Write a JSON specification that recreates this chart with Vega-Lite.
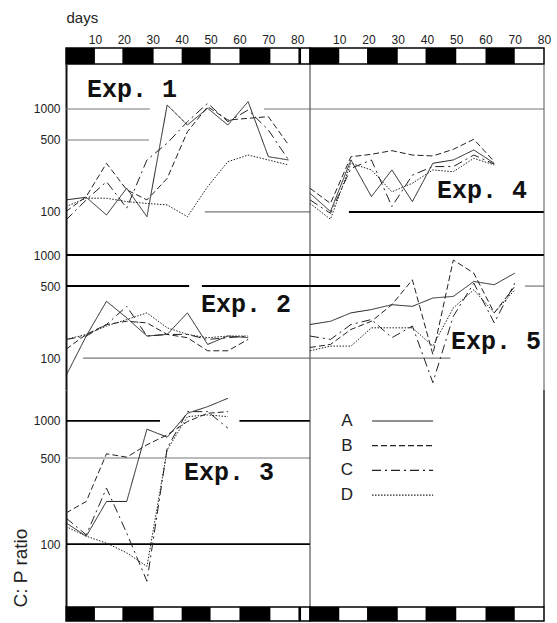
{
  "$schema": "https://vega.github.io/schema/vega-lite/v6.json",
  "padding": {"left": 11, "top": 9, "right": 8, "bottom": 1},
  "background": "white",
  "config": {"view": {"stroke": null}, "concat": {"spacing": 0}},
  "datasets": {
    "bars": [
      {"col": "L", "start": 0, "end": 10}, {"col": "L", "start": 19.5, "end": 30.3}, {"col": "L", "start": 40, "end": 50}, {"col": "L", "start": 60, "end": 70.7}, {"col": "L", "start": 80.4, "end": 81.3},
      {"col": "R", "start": 0, "end": 10}, {"col": "R", "start": 19.5, "end": 30}, {"col": "R", "start": 39.5, "end": 50}, {"col": "R", "start": 60, "end": 70}
    ],
    "grid": [
      {"panel": "P1", "value": 1000, "from": 0, "to": 29, "weight": "thin"},
      {"panel": "P1", "value": 1000, "from": 68.5, "to": 84.4, "weight": "thin"},
      {"panel": "P1", "value": 500, "from": 0, "to": 28.7, "weight": "thin"},
      {"panel": "P1", "value": 100, "from": 48, "to": 84.4, "weight": "thin"},
      {"panel": "P4", "value": 1000, "from": 0, "to": 80, "weight": "thin"},
      {"panel": "P4", "value": 100, "from": 13.3, "to": 80, "weight": "thick"},
      {"panel": "P2", "value": 1000, "from": 0, "to": 84.4, "weight": "thick"},
      {"panel": "P2", "value": 500, "from": 0, "to": 42.6, "weight": "thick"},
      {"panel": "P2", "value": 500, "from": 47, "to": 84.4, "weight": "thick"},
      {"panel": "P2", "value": 100, "from": 5.9, "to": 84.4, "weight": "thin"},
      {"panel": "P5", "value": 1000, "from": 0, "to": 80, "weight": "thick"},
      {"panel": "P5", "value": 500, "from": 0, "to": 30.8, "weight": "thick"},
      {"panel": "P5", "value": 500, "from": 73.5, "to": 80, "weight": "thin"},
      {"panel": "P5", "value": 100, "from": 0, "to": 48, "weight": "thin"},
      {"panel": "P3", "value": 1000, "from": 0, "to": 32.5, "weight": "thick"},
      {"panel": "P3", "value": 1000, "from": 60, "to": 84.4, "weight": "thick"},
      {"panel": "P3", "value": 500, "from": 0, "to": 84.4, "weight": "thin"},
      {"panel": "P3", "value": 100, "from": 0, "to": 84.4, "weight": "thick"}
    ],
    "legend": [{"series": "A", "order": 1}, {"series": "B", "order": 2}, {"series": "C", "order": 3}, {"series": "D", "order": 4}],
    "cp": [
      {"exp":1,"series":"A","day":0,"ratio":131},{"exp":1,"series":"A","day":7,"ratio":139},{"exp":1,"series":"A","day":14,"ratio":93.5},{"exp":1,"series":"A","day":21,"ratio":170},{"exp":1,"series":"A","day":28,"ratio":90},{"exp":1,"series":"A","day":35,"ratio":1094},{"exp":1,"series":"A","day":42,"ratio":699},{"exp":1,"series":"A","day":49,"ratio":1016},{"exp":1,"series":"A","day":56,"ratio":699},{"exp":1,"series":"A","day":63,"ratio":1178},{"exp":1,"series":"A","day":70,"ratio":344},{"exp":1,"series":"A","day":77,"ratio":320},
      {"exp":1,"series":"B","day":0,"ratio":101},{"exp":1,"series":"B","day":7,"ratio":141},{"exp":1,"series":"B","day":14,"ratio":297},{"exp":1,"series":"B","day":21,"ratio":164},{"exp":1,"series":"B","day":28,"ratio":131},{"exp":1,"series":"B","day":35,"ratio":212},{"exp":1,"series":"B","day":42,"ratio":602},{"exp":1,"series":"B","day":49,"ratio":1052},{"exp":1,"series":"B","day":56,"ratio":781},{"exp":1,"series":"B","day":63,"ratio":812},{"exp":1,"series":"B","day":70,"ratio":842},{"exp":1,"series":"B","day":77,"ratio":447},
      {"exp":1,"series":"C","day":0,"ratio":83.5},{"exp":1,"series":"C","day":7,"ratio":131},{"exp":1,"series":"C","day":14,"ratio":197},{"exp":1,"series":"C","day":21,"ratio":109},{"exp":1,"series":"C","day":28,"ratio":320},{"exp":1,"series":"C","day":35,"ratio":465},{"exp":1,"series":"C","day":42,"ratio":753},{"exp":1,"series":"C","day":49,"ratio":1136},{"exp":1,"series":"C","day":56,"ratio":753},{"exp":1,"series":"C","day":63,"ratio":978},{"exp":1,"series":"C","day":70,"ratio":625},{"exp":1,"series":"C","day":77,"ratio":320},
      {"exp":1,"series":"D","day":0,"ratio":113},{"exp":1,"series":"D","day":7,"ratio":136},{"exp":1,"series":"D","day":14,"ratio":136},{"exp":1,"series":"D","day":21,"ratio":126},{"exp":1,"series":"D","day":28,"ratio":121},{"exp":1,"series":"D","day":35,"ratio":117},{"exp":1,"series":"D","day":42,"ratio":90},{"exp":1,"series":"D","day":49,"ratio":176},{"exp":1,"series":"D","day":56,"ratio":308},{"exp":1,"series":"D","day":63,"ratio":357},{"exp":1,"series":"D","day":70,"ratio":320},{"exp":1,"series":"D","day":77,"ratio":286},
      {"exp":4,"series":"A","day":0,"ratio":152},{"exp":4,"series":"A","day":7,"ratio":101},{"exp":4,"series":"A","day":14,"ratio":320},{"exp":4,"series":"A","day":21,"ratio":141},{"exp":4,"series":"A","day":28,"ratio":256},{"exp":4,"series":"A","day":35,"ratio":126},{"exp":4,"series":"A","day":42,"ratio":297},{"exp":4,"series":"A","day":49,"ratio":320},{"exp":4,"series":"A","day":56,"ratio":400},{"exp":4,"series":"A","day":63,"ratio":297},
      {"exp":4,"series":"B","day":0,"ratio":170},{"exp":4,"series":"B","day":7,"ratio":121},{"exp":4,"series":"B","day":14,"ratio":344},{"exp":4,"series":"B","day":21,"ratio":363},{"exp":4,"series":"B","day":28,"ratio":394},{"exp":4,"series":"B","day":35,"ratio":357},{"exp":4,"series":"B","day":42,"ratio":350},{"exp":4,"series":"B","day":49,"ratio":406},{"exp":4,"series":"B","day":56,"ratio":508},{"exp":4,"series":"B","day":63,"ratio":308},
      {"exp":4,"series":"C","day":0,"ratio":131},{"exp":4,"series":"C","day":7,"ratio":97},{"exp":4,"series":"C","day":14,"ratio":265},{"exp":4,"series":"C","day":21,"ratio":320},{"exp":4,"series":"C","day":28,"ratio":113},{"exp":4,"series":"C","day":35,"ratio":228},{"exp":4,"series":"C","day":42,"ratio":276},{"exp":4,"series":"C","day":49,"ratio":276},{"exp":4,"series":"C","day":56,"ratio":357},{"exp":4,"series":"C","day":63,"ratio":292},
      {"exp":4,"series":"D","day":0,"ratio":121},{"exp":4,"series":"D","day":7,"ratio":85},{"exp":4,"series":"D","day":14,"ratio":297},{"exp":4,"series":"D","day":21,"ratio":256},{"exp":4,"series":"D","day":28,"ratio":157},{"exp":4,"series":"D","day":35,"ratio":190},{"exp":4,"series":"D","day":42,"ratio":256},{"exp":4,"series":"D","day":49,"ratio":246},{"exp":4,"series":"D","day":56,"ratio":332},{"exp":4,"series":"D","day":63,"ratio":286},
      {"exp":2,"series":"A","day":0,"ratio":67.6},{"exp":2,"series":"A","day":7,"ratio":164},{"exp":2,"series":"A","day":14,"ratio":356},{"exp":2,"series":"A","day":21,"ratio":246},{"exp":2,"series":"A","day":28,"ratio":164},{"exp":2,"series":"A","day":35,"ratio":170},{"exp":2,"series":"A","day":42,"ratio":275},{"exp":2,"series":"A","day":49,"ratio":136},{"exp":2,"series":"A","day":56,"ratio":164},{"exp":2,"series":"A","day":63,"ratio":158},
      {"exp":2,"series":"B","day":0,"ratio":122},{"exp":2,"series":"B","day":7,"ratio":170},{"exp":2,"series":"B","day":14,"ratio":212},{"exp":2,"series":"B","day":21,"ratio":228},{"exp":2,"series":"B","day":28,"ratio":220},{"exp":2,"series":"B","day":35,"ratio":170},{"exp":2,"series":"B","day":42,"ratio":158},{"exp":2,"series":"B","day":49,"ratio":118},{"exp":2,"series":"B","day":56,"ratio":118},{"exp":2,"series":"B","day":63,"ratio":152},
      {"exp":2,"series":"C","day":0,"ratio":152},{"exp":2,"series":"C","day":7,"ratio":164},{"exp":2,"series":"C","day":14,"ratio":212},{"exp":2,"series":"C","day":21,"ratio":318},{"exp":2,"series":"C","day":28,"ratio":164},{"exp":2,"series":"C","day":35,"ratio":170},{"exp":2,"series":"C","day":42,"ratio":170},{"exp":2,"series":"C","day":49,"ratio":152},{"exp":2,"series":"C","day":56,"ratio":158},{"exp":2,"series":"C","day":63,"ratio":164},
      {"exp":2,"series":"D","day":0,"ratio":152},{"exp":2,"series":"D","day":7,"ratio":170},{"exp":2,"series":"D","day":14,"ratio":205},{"exp":2,"series":"D","day":21,"ratio":237},{"exp":2,"series":"D","day":28,"ratio":275},{"exp":2,"series":"D","day":35,"ratio":197},{"exp":2,"series":"D","day":42,"ratio":170},{"exp":2,"series":"D","day":49,"ratio":158},{"exp":2,"series":"D","day":56,"ratio":164},{"exp":2,"series":"D","day":63,"ratio":164},
      {"exp":5,"series":"A","day":0,"ratio":212},{"exp":5,"series":"A","day":7,"ratio":228},{"exp":5,"series":"A","day":14,"ratio":275},{"exp":5,"series":"A","day":21,"ratio":296},{"exp":5,"series":"A","day":28,"ratio":330},{"exp":5,"series":"A","day":35,"ratio":318},{"exp":5,"series":"A","day":42,"ratio":383},{"exp":5,"series":"A","day":49,"ratio":397},{"exp":5,"series":"A","day":56,"ratio":554},{"exp":5,"series":"A","day":63,"ratio":515},{"exp":5,"series":"A","day":70,"ratio":667},
      {"exp":5,"series":"B","day":0,"ratio":127},{"exp":5,"series":"B","day":7,"ratio":136},{"exp":5,"series":"B","day":14,"ratio":190},{"exp":5,"series":"B","day":21,"ratio":228},{"exp":5,"series":"B","day":28,"ratio":330},{"exp":5,"series":"B","day":35,"ratio":575},{"exp":5,"series":"B","day":42,"ratio":109},{"exp":5,"series":"B","day":49,"ratio":895},{"exp":5,"series":"B","day":56,"ratio":667},{"exp":5,"series":"B","day":63,"ratio":275},{"exp":5,"series":"B","day":70,"ratio":496},
      {"exp":5,"series":"C","day":0,"ratio":164},{"exp":5,"series":"C","day":7,"ratio":152},{"exp":5,"series":"C","day":14,"ratio":212},{"exp":5,"series":"C","day":21,"ratio":237},{"exp":5,"series":"C","day":28,"ratio":158},{"exp":5,"series":"C","day":35,"ratio":205},{"exp":5,"series":"C","day":42,"ratio":58},{"exp":5,"series":"C","day":49,"ratio":255},{"exp":5,"series":"C","day":56,"ratio":534},{"exp":5,"series":"C","day":63,"ratio":220},{"exp":5,"series":"C","day":70,"ratio":534},
      {"exp":5,"series":"D","day":0,"ratio":118},{"exp":5,"series":"D","day":7,"ratio":131},{"exp":5,"series":"D","day":14,"ratio":131},{"exp":5,"series":"D","day":21,"ratio":197},{"exp":5,"series":"D","day":28,"ratio":197},{"exp":5,"series":"D","day":35,"ratio":197},{"exp":5,"series":"D","day":42,"ratio":131},{"exp":5,"series":"D","day":49,"ratio":307},{"exp":5,"series":"D","day":56,"ratio":460},{"exp":5,"series":"D","day":63,"ratio":275},{"exp":5,"series":"D","day":70,"ratio":460},
      {"exp":3,"series":"A","day":0,"ratio":149},{"exp":3,"series":"A","day":7,"ratio":116},{"exp":3,"series":"A","day":14,"ratio":222},{"exp":3,"series":"A","day":21,"ratio":222},{"exp":3,"series":"A","day":28,"ratio":857},{"exp":3,"series":"A","day":35,"ratio":738},{"exp":3,"series":"A","day":42,"ratio":1153},{"exp":3,"series":"A","day":49,"ratio":1306},{"exp":3,"series":"A","day":56,"ratio":1527},
      {"exp":3,"series":"B","day":0,"ratio":179},{"exp":3,"series":"B","day":7,"ratio":222},{"exp":3,"series":"B","day":14,"ratio":541},{"exp":3,"series":"B","day":21,"ratio":508},{"exp":3,"series":"B","day":28,"ratio":640},{"exp":3,"series":"B","day":35,"ratio":771},{"exp":3,"series":"B","day":42,"ratio":988},{"exp":3,"series":"B","day":49,"ratio":1153},{"exp":3,"series":"B","day":56,"ratio":1190},
      {"exp":3,"series":"C","day":0,"ratio":163},{"exp":3,"series":"C","day":7,"ratio":119},{"exp":3,"series":"C","day":14,"ratio":285},{"exp":3,"series":"C","day":21,"ratio":123},{"exp":3,"series":"C","day":28,"ratio":50},{"exp":3,"series":"C","day":35,"ratio":601},{"exp":3,"series":"C","day":42,"ratio":1190},{"exp":3,"series":"C","day":49,"ratio":1190},{"exp":3,"series":"C","day":56,"ratio":873},
      {"exp":3,"series":"D","day":0,"ratio":139},{"exp":3,"series":"D","day":7,"ratio":116},{"exp":3,"series":"D","day":14,"ratio":102},{"exp":3,"series":"D","day":21,"ratio":85},{"exp":3,"series":"D","day":28,"ratio":66},{"exp":3,"series":"D","day":35,"ratio":582},{"exp":3,"series":"D","day":42,"ratio":1083},{"exp":3,"series":"D","day":49,"ratio":1119},{"exp":3,"series":"D","day":56,"ratio":1083}
    ]
  },
  "columns": 2,
  "bounds": "flush",
  "align": "each",
  "spacing": 0,
  "resolve": {"scale": {"x": "independent", "y": "independent"}},
  "concat": [
    {
      "width": 244, "height": 16,
      "view": {"stroke": "#000", "strokeWidth": 1.5},
      "data": {"name": "bars"},
      "transform": [{"filter": "datum.col === 'L'"}],
      "mark": {"type": "rect", "color": "#000"},
      "encoding": {
        "x": {"field": "start", "type": "quantitative", "scale": {"domain": [0, 84.4], "nice": false, "zero": false},
          "axis": {"orient": "top", "values": [10, 20, 30, 40, 50, 60, 70, 80], "title": "days", "titleAnchor": "start", "titleAlign": "left", "titleFont": "Liberation Sans", "titleFontSize": 15, "titleFontWeight": "normal", "titleColor": "#222", "titlePadding": 8, "labelFont": "Liberation Sans", "labelFontSize": 12, "labelColor": "#222", "labelPadding": 2, "labelFlush": false, "ticks": false, "domain": false, "grid": false}},
        "x2": {"field": "end"}
      }
    },
    {
      "width": 234, "height": 16,
      "view": {"stroke": "#000", "strokeWidth": 1.5},
      "data": {"name": "bars"},
      "transform": [{"filter": "datum.col === 'R'"}],
      "mark": {"type": "rect", "color": "#000"},
      "encoding": {
        "x": {"field": "start", "type": "quantitative", "scale": {"domain": [0, 80], "nice": false, "zero": false},
          "axis": {"orient": "top", "values": [10, 20, 30, 40, 50, 60, 70, 80], "title": null, "labelFont": "Liberation Sans", "labelFontSize": 12, "labelColor": "#222", "labelPadding": 2, "labelFlush": false, "ticks": false, "domain": false, "grid": false}},
        "x2": {"field": "end"}
      }
    },
    {
      "width": 244, "height": 191,
      "layer": [
        {"data": {"name": "grid"}, "transform": [{"filter": "datum.panel === 'P1' && datum.weight === 'thin'"}],
         "mark": {"type": "rule", "color": "#777", "strokeWidth": 1.2},
         "encoding": {"x": {"field": "from", "type": "quantitative", "scale": {"domain": [0, 84.4], "nice": false, "zero": false}, "axis": null}, "x2": {"field": "to"},
           "y": {"field": "value", "type": "quantitative", "scale": {"type": "log", "domain": [38.2, 2735], "nice": false},
             "axis": {"values": [100, 500, 1000], "format": "d", "title": null, "ticks": false, "grid": false, "domain": true, "domainColor": "#111", "domainWidth": 2, "labelFont": "Liberation Sans", "labelFontSize": 12, "labelColor": "#222", "labelPadding": 6}}}},
        {"data": {"values": [{}]}, "mark": {"type": "rule", "color": "#333", "strokeWidth": 1}, "encoding": {"x": {"datum": 84.4, "type": "quantitative"}}},
        {"data": {"name": "cp"}, "transform": [{"filter": "datum.exp === 1"}],
         "mark": {"type": "line", "color": "#222", "strokeWidth": 1},
         "encoding": {"x": {"field": "day", "type": "quantitative"}, "y": {"field": "ratio", "type": "quantitative"},
           "strokeDash": {"field": "series", "type": "nominal", "scale": {"domain": ["A", "B", "C", "D"], "range": [[1, 0], [6, 3], [9, 4, 2, 4], [1.5, 1.5]]}, "legend": null}}},
        {"data": {"values": [{}]}, "mark": {"type": "text", "font": "Liberation Mono", "fontWeight": "bold", "fontSize": 25, "align": "left", "baseline": "alphabetic", "color": "#111"},
         "encoding": {"x": {"datum": 7.3, "type": "quantitative"}, "y": {"datum": 1308, "type": "quantitative"}, "text": {"value": "Exp. 1"}}}
      ]
    },
    {
      "width": 234, "height": 191,
      "layer": [
        {"data": {"name": "grid"}, "transform": [{"filter": "datum.panel === 'P4' && datum.weight === 'thin'"}],
         "mark": {"type": "rule", "color": "#777", "strokeWidth": 1.2},
         "encoding": {"x": {"field": "from", "type": "quantitative", "scale": {"domain": [0, 80], "nice": false, "zero": false}, "axis": null}, "x2": {"field": "to"},
           "y": {"field": "value", "type": "quantitative", "scale": {"type": "log", "domain": [38.2, 2735], "nice": false}, "axis": null}}},
        {"data": {"name": "grid"}, "transform": [{"filter": "datum.panel === 'P4' && datum.weight === 'thick'"}],
         "mark": {"type": "rule", "color": "#000", "strokeWidth": 2},
         "encoding": {"x": {"field": "from", "type": "quantitative"}, "x2": {"field": "to"}, "y": {"field": "value", "type": "quantitative"}}},
        {"data": {"values": [{}]}, "mark": {"type": "rule", "color": "#555", "strokeWidth": 1}, "encoding": {"x": {"datum": 80, "type": "quantitative"}}},
        {"data": {"name": "cp"}, "transform": [{"filter": "datum.exp === 4"}],
         "mark": {"type": "line", "color": "#222", "strokeWidth": 1},
         "encoding": {"x": {"field": "day", "type": "quantitative"}, "y": {"field": "ratio", "type": "quantitative"},
           "strokeDash": {"field": "series", "type": "nominal", "scale": {"domain": ["A", "B", "C", "D"], "range": [[1, 0], [6, 3], [9, 4, 2, 4], [1.5, 1.5]]}, "legend": null}}},
        {"data": {"values": [{}]}, "mark": {"type": "text", "font": "Liberation Mono", "fontWeight": "bold", "fontSize": 25, "align": "left", "baseline": "alphabetic", "color": "#111"},
         "encoding": {"x": {"datum": 43.4, "type": "quantitative"}, "y": {"datum": 137, "type": "quantitative"}, "text": {"value": "Exp. 4"}}}
      ]
    },
    {
      "width": 244, "height": 135,
      "layer": [
        {"data": {"name": "grid"}, "transform": [{"filter": "datum.panel === 'P2' && datum.weight === 'thin'"}],
         "mark": {"type": "rule", "color": "#777", "strokeWidth": 1.2},
         "encoding": {"x": {"field": "from", "type": "quantitative", "scale": {"domain": [0, 84.4], "nice": false, "zero": false}, "axis": null}, "x2": {"field": "to"},
           "y": {"field": "value", "type": "quantitative", "scale": {"type": "log", "domain": [49.2, 1000], "nice": false},
             "axis": {"values": [100, 500, 1000], "format": "d", "title": null, "ticks": false, "grid": false, "domain": true, "domainColor": "#111", "domainWidth": 2, "labelFont": "Liberation Sans", "labelFontSize": 12, "labelColor": "#222", "labelPadding": 6}}}},
        {"data": {"name": "grid"}, "transform": [{"filter": "datum.panel === 'P2' && datum.weight === 'thick'"}],
         "mark": {"type": "rule", "color": "#000", "strokeWidth": 2},
         "encoding": {"x": {"field": "from", "type": "quantitative"}, "x2": {"field": "to"}, "y": {"field": "value", "type": "quantitative"}}},
        {"data": {"values": [{}]}, "mark": {"type": "rule", "color": "#333", "strokeWidth": 1}, "encoding": {"x": {"datum": 84.4, "type": "quantitative"}}},
        {"data": {"name": "cp"}, "transform": [{"filter": "datum.exp === 2"}],
         "mark": {"type": "line", "color": "#222", "strokeWidth": 1},
         "encoding": {"x": {"field": "day", "type": "quantitative"}, "y": {"field": "ratio", "type": "quantitative"},
           "strokeDash": {"field": "series", "type": "nominal", "scale": {"domain": ["A", "B", "C", "D"], "range": [[1, 0], [6, 3], [9, 4, 2, 4], [1.5, 1.5]]}, "legend": null}}},
        {"data": {"values": [{}]}, "mark": {"type": "text", "font": "Liberation Mono", "fontWeight": "bold", "fontSize": 25, "align": "left", "baseline": "alphabetic", "color": "#111"},
         "encoding": {"x": {"datum": 46.7, "type": "quantitative"}, "y": {"datum": 280, "type": "quantitative"}, "text": {"value": "Exp. 2"}}}
      ]
    },
    {
      "width": 234, "height": 135,
      "layer": [
        {"data": {"name": "grid"}, "transform": [{"filter": "datum.panel === 'P5' && datum.weight === 'thin'"}],
         "mark": {"type": "rule", "color": "#777", "strokeWidth": 1.2},
         "encoding": {"x": {"field": "from", "type": "quantitative", "scale": {"domain": [0, 80], "nice": false, "zero": false}, "axis": null}, "x2": {"field": "to"},
           "y": {"field": "value", "type": "quantitative", "scale": {"type": "log", "domain": [49.2, 1000], "nice": false}, "axis": null}}},
        {"data": {"name": "grid"}, "transform": [{"filter": "datum.panel === 'P5' && datum.weight === 'thick'"}],
         "mark": {"type": "rule", "color": "#000", "strokeWidth": 2},
         "encoding": {"x": {"field": "from", "type": "quantitative"}, "x2": {"field": "to"}, "y": {"field": "value", "type": "quantitative"}}},
        {"data": {"values": [{}]}, "mark": {"type": "rule", "color": "#555", "strokeWidth": 1}, "encoding": {"x": {"datum": 80, "type": "quantitative"}}},
        {"data": {"name": "cp"}, "transform": [{"filter": "datum.exp === 5"}],
         "mark": {"type": "line", "color": "#222", "strokeWidth": 1},
         "encoding": {"x": {"field": "day", "type": "quantitative"}, "y": {"field": "ratio", "type": "quantitative"},
           "strokeDash": {"field": "series", "type": "nominal", "scale": {"domain": ["A", "B", "C", "D"], "range": [[1, 0], [6, 3], [9, 4, 2, 4], [1.5, 1.5]]}, "legend": null}}},
        {"data": {"values": [{}]}, "mark": {"type": "text", "font": "Liberation Mono", "fontWeight": "bold", "fontSize": 25, "align": "left", "baseline": "alphabetic", "color": "#111"},
         "encoding": {"x": {"datum": 48.2, "type": "quantitative"}, "y": {"datum": 122, "type": "quantitative"}, "text": {"value": "Exp. 5"}}}
      ]
    },
    {
      "width": 244, "height": 217,
      "layer": [
        {"data": {"name": "grid"}, "transform": [{"filter": "datum.panel === 'P3' && datum.weight === 'thin'"}],
         "mark": {"type": "rule", "color": "#777", "strokeWidth": 1.2},
         "encoding": {"x": {"field": "from", "type": "quantitative", "scale": {"domain": [0, 84.4], "nice": false, "zero": false}, "axis": null}, "x2": {"field": "to"},
           "y": {"field": "value", "type": "quantitative", "scale": {"type": "log", "domain": [30.9, 1782], "nice": false},
             "axis": {"values": [100, 500, 1000], "format": "d", "title": "C: P ratio", "titleAnchor": "start", "titleFont": "Liberation Sans", "titleFontSize": 19, "titleFontWeight": "normal", "titleColor": "#222", "titlePadding": 3, "ticks": false, "grid": false, "domain": true, "domainColor": "#111", "domainWidth": 2, "labelFont": "Liberation Sans", "labelFontSize": 12, "labelColor": "#222", "labelPadding": 6}}}},
        {"data": {"name": "grid"}, "transform": [{"filter": "datum.panel === 'P3' && datum.weight === 'thick'"}],
         "mark": {"type": "rule", "color": "#000", "strokeWidth": 1.6},
         "encoding": {"x": {"field": "from", "type": "quantitative"}, "x2": {"field": "to"}, "y": {"field": "value", "type": "quantitative"}}},
        {"data": {"values": [{}]}, "mark": {"type": "rule", "color": "#333", "strokeWidth": 1}, "encoding": {"x": {"datum": 84.4, "type": "quantitative"}}},
        {"data": {"name": "cp"}, "transform": [{"filter": "datum.exp === 3"}],
         "mark": {"type": "line", "color": "#222", "strokeWidth": 1},
         "encoding": {"x": {"field": "day", "type": "quantitative"}, "y": {"field": "ratio", "type": "quantitative"},
           "strokeDash": {"field": "series", "type": "nominal", "scale": {"domain": ["A", "B", "C", "D"], "range": [[1, 0], [6, 3], [9, 4, 2, 4], [1.5, 1.5]]}, "legend": null}}},
        {"data": {"values": [{}]}, "mark": {"type": "text", "font": "Liberation Mono", "fontWeight": "bold", "fontSize": 25, "align": "left", "baseline": "alphabetic", "color": "#111"},
         "encoding": {"x": {"datum": 40.8, "type": "quantitative"}, "y": {"datum": 333, "type": "quantitative"}, "text": {"value": "Exp. 3"}}}
      ]
    },
    {
      "width": 234, "height": 217,
      "data": {"name": "legend"},
      "layer": [
        {"mark": {"type": "rule", "color": "#222", "strokeWidth": 1.2},
         "encoding": {"x": {"datum": 21.2, "type": "quantitative", "scale": {"domain": [0, 80], "nice": false, "zero": false}, "axis": null}, "x2": {"datum": 42.1},
           "y": {"field": "order", "type": "quantitative", "scale": {"domain": [-0.255, 8.53], "nice": false, "zero": false, "reverse": true}, "axis": null},
           "strokeDash": {"field": "series", "type": "nominal", "scale": {"domain": ["A", "B", "C", "D"], "range": [[1, 0], [6, 3], [9, 4, 2, 4], [1.5, 1.5]]}, "legend": null}}},
        {"mark": {"type": "text", "font": "Liberation Sans", "fontSize": 17, "align": "center", "baseline": "middle", "color": "#222"},
         "encoding": {"x": {"datum": 12.6, "type": "quantitative"}, "y": {"field": "order", "type": "quantitative"}, "text": {"field": "series"}}},
        {"mark": {"type": "rule", "color": "#555", "strokeWidth": 1}, "encoding": {"x": {"datum": 80, "type": "quantitative"}}}
      ]
    },
    {
      "width": 244, "height": 14,
      "view": {"stroke": "#000", "strokeWidth": 1.5},
      "data": {"name": "bars"},
      "transform": [{"filter": "datum.col === 'L'"}],
      "mark": {"type": "rect", "color": "#000"},
      "encoding": {
        "x": {"field": "start", "type": "quantitative", "scale": {"domain": [0, 84.4], "nice": false, "zero": false}, "axis": null},
        "x2": {"field": "end"}
      }
    },
    {
      "width": 234, "height": 14,
      "view": {"stroke": "#000", "strokeWidth": 1.5},
      "data": {"name": "bars"},
      "transform": [{"filter": "datum.col === 'R'"}],
      "mark": {"type": "rect", "color": "#000"},
      "encoding": {
        "x": {"field": "start", "type": "quantitative", "scale": {"domain": [0, 80], "nice": false, "zero": false}, "axis": null},
        "x2": {"field": "end"}
      }
    }
  ]
}
